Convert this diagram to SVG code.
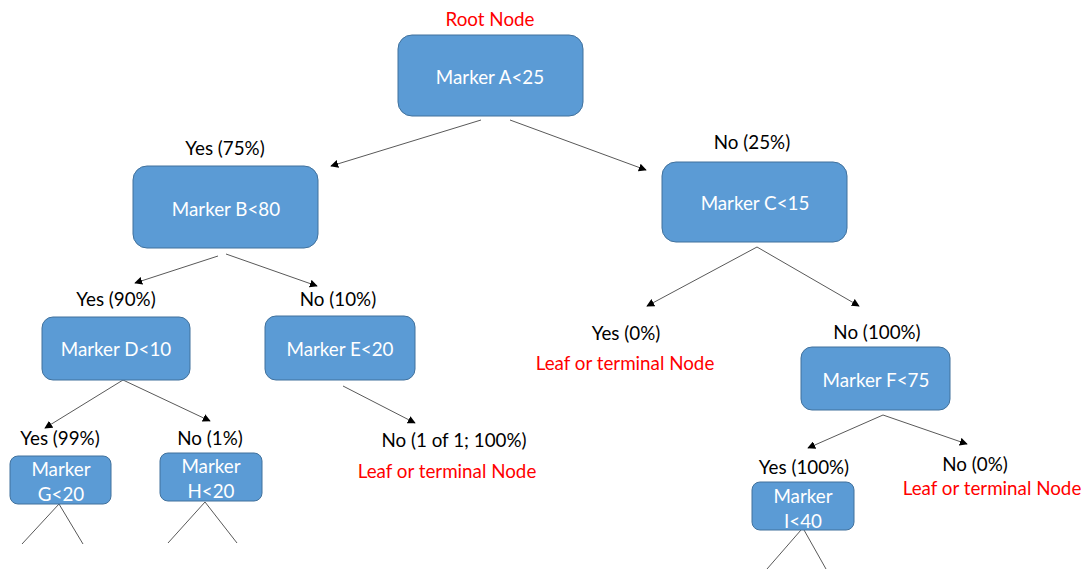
<svg xmlns="http://www.w3.org/2000/svg" width="1089" height="569" viewBox="0 0 1089 569">
  <style>
    .box { fill: #5b9bd5; stroke: #41719c; stroke-width: 1; }
    .lbl { font-family: Lato, "Liberation Sans", sans-serif; font-size: 18.8px; fill: #ffffff; text-anchor: middle; dominant-baseline: central; }
    .txt { font-family: Lato, "Liberation Sans", sans-serif; font-size: 18.8px; fill: #000000; text-anchor: middle; dominant-baseline: central; }
    .red { fill: #ff0000; }
    .edge { stroke: #595959; stroke-width: 1; fill: none; }
    .arr { marker-end: url(#tri); }
  </style>
  <defs>
    <marker id="tri" viewBox="0 0 10 10" refX="9" refY="5" markerWidth="8" markerHeight="8" markerUnits="userSpaceOnUse" orient="auto">
      <path d="M0,0 L10,5 L0,10 Z" fill="#000000"/>
    </marker>
  </defs>

  <rect width="1089" height="569" fill="#ffffff"/>

  <!-- connectors -->
  <g id="connectors">
    <line class="edge arr" x1="481" y1="120" x2="331" y2="166"/>
    <line class="edge arr" x1="510" y1="120" x2="646" y2="170"/>
    <line class="edge arr" x1="218" y1="256" x2="135" y2="283"/>
    <line class="edge arr" x1="226" y1="254" x2="317" y2="286"/>
    <line class="edge arr" x1="757" y1="247" x2="647" y2="306"/>
    <line class="edge arr" x1="757" y1="247" x2="859" y2="306"/>
    <line class="edge arr" x1="123" y1="380" x2="45" y2="428"/>
    <line class="edge arr" x1="123" y1="380" x2="210" y2="421"/>
    <line class="edge arr" x1="343" y1="386" x2="415" y2="423"/>
    <line class="edge arr" x1="883" y1="415" x2="808" y2="448"/>
    <line class="edge arr" x1="883" y1="415" x2="967" y2="444"/>
    <line class="edge" x1="59" y1="504" x2="22" y2="544"/>
    <line class="edge" x1="59" y1="504" x2="83" y2="544"/>
    <line class="edge" x1="205" y1="502" x2="168" y2="543"/>
    <line class="edge" x1="205" y1="502" x2="237" y2="543"/>
    <line class="edge" x1="801" y1="530" x2="767" y2="569"/>
    <line class="edge" x1="804" y1="530" x2="826" y2="569"/>
  </g>

  <!-- edge labels and captions -->
  <g id="labels">
    <text class="txt red" x="490" y="18">Root Node</text>
    <text class="txt" x="225" y="147">Yes (75%)</text>
    <text class="txt" x="752" y="141">No (25%)</text>
    <text class="txt" x="116" y="298">Yes (90%)</text>
    <text class="txt" x="338" y="298">No (10%)</text>
    <text class="txt" x="626" y="332">Yes (0%)</text>
    <text class="txt red" x="625" y="362">Leaf or terminal Node</text>
    <text class="txt" x="877" y="331">No (100%)</text>
    <text class="txt" x="60" y="437">Yes (99%)</text>
    <text class="txt" x="210" y="437">No (1%)</text>
    <text class="txt" x="454" y="439">No (1 of 1; 100%)</text>
    <text class="txt red" x="447" y="470">Leaf or terminal Node</text>
    <text class="txt" x="804" y="466">Yes (100%)</text>
    <text class="txt" x="975" y="463">No (0%)</text>
    <text class="txt red" x="992" y="487">Leaf or terminal Node</text>
  </g>

  <g id="node-a">
    <rect class="box" x="398" y="35" width="185" height="81" rx="14"/>
    <text class="lbl" x="490" y="76">Marker A&lt;25</text>
  </g>
  <g id="node-b">
    <rect class="box" x="133" y="166" width="185" height="82" rx="14"/>
    <text class="lbl" x="226" y="208">Marker B&lt;80</text>
  </g>
  <g id="node-c">
    <rect class="box" x="662" y="162" width="185" height="80" rx="14"/>
    <text class="lbl" x="755" y="202">Marker C&lt;15</text>
  </g>
  <g id="node-d">
    <rect class="box" x="42" y="317" width="148" height="63" rx="11"/>
    <text class="lbl" x="116" y="348">Marker D&lt;10</text>
  </g>
  <g id="node-e">
    <rect class="box" x="265" y="316" width="150" height="64" rx="11"/>
    <text class="lbl" x="340" y="348">Marker E&lt;20</text>
  </g>
  <g id="node-f">
    <rect class="box" x="801" y="347" width="149" height="63" rx="11"/>
    <text class="lbl" x="876" y="379">Marker F&lt;75</text>
  </g>
  <g id="node-g">
    <rect class="box" x="10" y="456" width="101" height="48" rx="8"/>
    <text class="lbl" x="61" y="468">Marker</text>
    <text class="lbl" x="61" y="493">G&lt;20</text>
  </g>
  <g id="node-h">
    <rect class="box" x="160" y="453" width="102" height="48" rx="8"/>
    <text class="lbl" x="211" y="465">Marker</text>
    <text class="lbl" x="211" y="490">H&lt;20</text>
  </g>
  <g id="node-i">
    <rect class="box" x="752" y="482" width="102" height="48" rx="8"/>
    <text class="lbl" x="803" y="495">Marker</text>
    <text class="lbl" x="803" y="520">I&lt;40</text>
  </g>
</svg>
